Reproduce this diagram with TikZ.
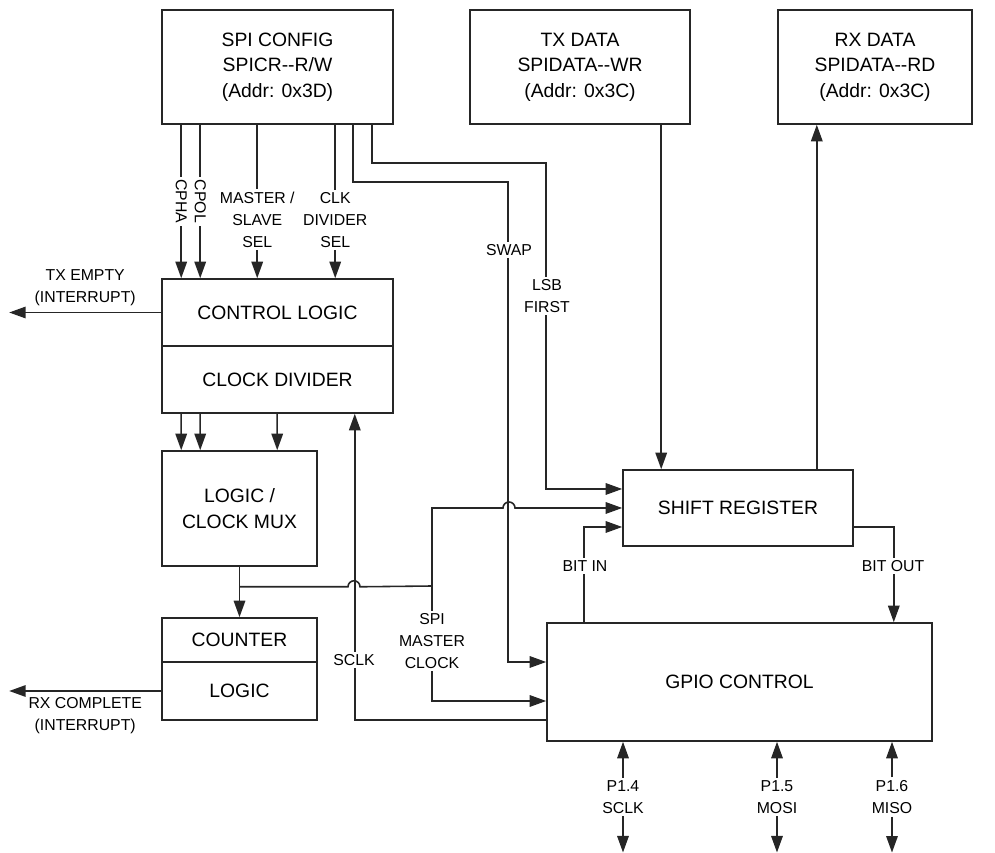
\documentclass[tikz,border=0pt]{standalone}
\usepackage{fontspec}
\setsansfont{Liberation Sans}
\usetikzlibrary{arrows.meta,calc}

\begin{document}
\begin{tikzpicture}[x=0.2mm,y=-0.2mm,font=\sffamily\fontsize{11}{14.5}\selectfont,>={Triangle[length=3.3mm,width=2.3mm]},
blk/.style={draw=black!85,line width=0.9pt,inner sep=0pt,align=center},
lbl/.style={font=\sffamily\fontsize{9}{12.5}\selectfont,align=center,inner sep=1.5pt},
gap/.style={lbl,fill=white},
sig/.style={->,draw=black!85,line width=0.9pt},
wire/.style={draw=black!85,line width=0.9pt}]
\useasboundingbox (0,0) rectangle (995,853);

\node[blk,minimum width=46.2mm,minimum height=22.8mm] (cfg) at (277.5,67) {SPI CONFIG\\SPICR-\kern0pt-R/W\\(Addr: 0x3D)};
\node[blk,minimum width=44mm,minimum height=22.8mm] (txd) at (580,67) {TX DATA\\SPIDATA-\kern0pt-WR\\(Addr: 0x3C)};
\node[blk,minimum width=38.8mm,minimum height=22.8mm] (rxd) at (875,67) {RX DATA\\SPIDATA-\kern0pt-RD\\(Addr: 0x3C)};
\node[blk,minimum width=46.2mm,minimum height=13.4mm] (ctl) at (277.5,312.5) {CONTROL LOGIC};
\node[blk,minimum width=46.2mm,minimum height=13.4mm] (div) at (277.5,379.5) {CLOCK DIVIDER};
\node[blk,minimum width=31mm,minimum height=23mm] (mux) at (239.5,508.5) {LOGIC /\\CLOCK MUX};
\node[blk,minimum width=31mm,minimum height=8.8mm] (cnt) at (239.5,640) {COUNTER};
\node[blk,minimum width=31mm,minimum height=11.6mm] (cntlog) at (239.5,691) {LOGIC};
\node[blk,minimum width=46mm,minimum height=15.2mm] (sreg) at (738,508) {SHIFT REGISTER};
\node[blk,minimum width=77mm,minimum height=23.6mm] (gpio) at (739.5,682) {GPIO CONTROL};

\coordinate (tap) at ($(mux.south)+(0,20)$);
\coordinate (mclk) at (432,586);
\coordinate (txin) at ($(sreg.north west)+(39,0)$);
\coordinate (rxout) at ($(sreg.north east)+(-37,0)$);

\draw[sig] ($(cfg.south west)+(20,0)$) -- ($(ctl.north west)+(20,0)$) node[gap,rotate=-90,midway] {CPHA};
\draw[sig] ($(cfg.south west)+(39,0)$) -- ($(ctl.north west)+(39,0)$) node[gap,rotate=-90,midway] {CPOL};
\draw[sig] ($(cfg.south west)+(96,0)$) -- ($(ctl.north west)+(96,0)$) node[gap,pos=0.62] {MASTER /\\SLAVE\\SEL};
\draw[sig] ($(cfg.south west)+(174,0)$) -- ($(ctl.north west)+(174,0)$) node[gap,pos=0.62] {CLK\\DIVIDER\\SEL};
\draw[sig] ($(cfg.south west)+(192,0)$) -- ++(0,57) -- ++(155,0) |- ($(gpio.west)+(0,-20)$);
\draw[sig] ($(cfg.south west)+(211,0)$) -- ++(0,38) -- ++(174,0) |- ($(sreg.west)+(0,-19)$);
\node[gap] (swap) at (509,250) {SWAP};
\node[gap] (lsb) at (547,296) {LSB\\FIRST};

\draw[sig] (ctl.west) -- ++(-152,0) node[lbl,midway,above=2pt] (txe) {TX EMPTY\\(INTERRUPT)};
\draw[sig] (cntlog.west) -- ++(-152,0) node[lbl,midway,below=2pt] (rxc) {RX COMPLETE\\(INTERRUPT)};

\draw[sig] ($(div.south west)+(20,0)$) -- ($(mux.north west)+(20,0)$);
\draw[sig] ($(div.south west)+(39,0)$) -- ($(mux.north west)+(39,0)$);
\draw[sig] ($(div.south west)+(116,0)$) -- ($(mux.north west)+(116,0)$);

\draw[sig] (mux.south) -- (cnt.north);
\draw[wire] (tap) -- ++(108.5,0) arc[start angle=180,end angle=360,radius=6] -- (mclk);
\draw[sig] (mclk) -- ++(0,-78) -- ++(71,0) arc[start angle=180,end angle=360,radius=6] -- (sreg.west);
\draw[sig] (mclk) |- ($(gpio.west)+(0,19)$);
\node[gap] (mclklbl) at (432,641) {SPI\\MASTER\\CLOCK};

\draw[sig] ($(gpio.west)+(0,38)$) -| ($(div.south east)+(-39,0)$);
\node[gap] (sclk) at (354,660) {SCLK};

\draw[sig] ($(gpio.north west)+(38,0)$) |- ($(sreg.west)+(0,19)$);
\node[gap] (bitin) at (585,566) {BIT IN};
\draw[sig] ($(sreg.east)+(0,19)$) -| ($(gpio.north east)+(-39,0)$);
\node[gap] (bitout) at (893,566) {BIT OUT};

\draw[sig] (txin |- txd.south) -- (txin);
\draw[sig] (rxout) -- (rxout |- rxd.south);

\node[lbl] (p14) at (623,797) {P1.4\\SCLK};
\node[lbl] (p15) at (777,797) {P1.5\\MOSI};
\node[lbl] (p16) at (892,797) {P1.6\\MISO};
\foreach \p in {p14,p15,p16}{
  \draw[sig] (\p.north) -- (\p.north |- gpio.south);
  \draw[sig] (\p.south) -- ++(0,36);
}
\end{tikzpicture}
\end{document}
